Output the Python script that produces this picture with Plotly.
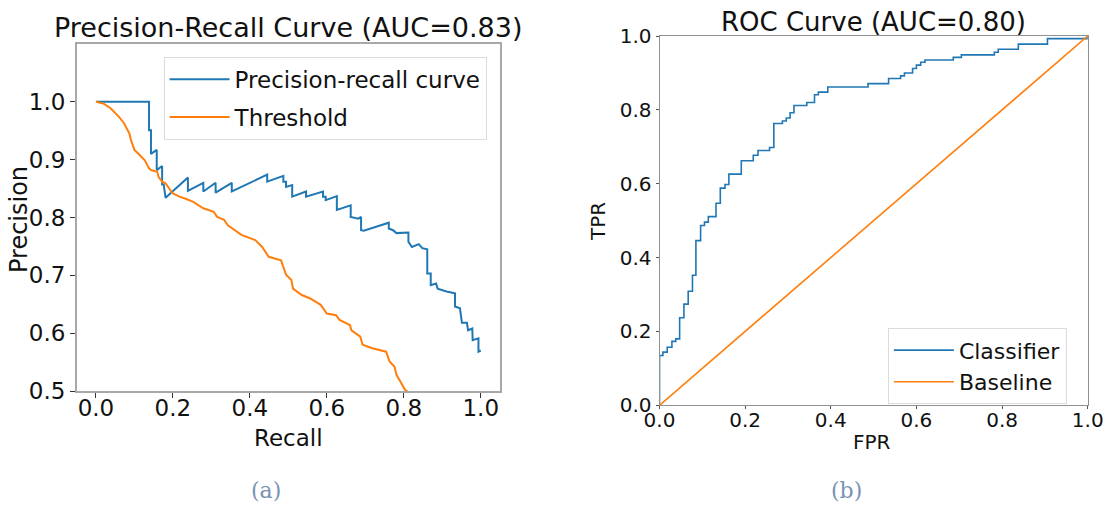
import plotly.graph_objects as go

# ---------------- data ----------------
pr_recall = [0.000, 0.138, 0.138, 0.143, 0.143, 0.158, 0.158, 0.172, 0.172, 0.176, 0.181, 0.239, 0.239,
             0.279, 0.279, 0.311, 0.311, 0.353, 0.353, 0.445, 0.445, 0.487, 0.487, 0.494, 0.494, 0.510,
             0.510, 0.546, 0.546, 0.590, 0.590, 0.597, 0.597, 0.626, 0.626, 0.662, 0.662, 0.682, 0.689,
             0.689, 0.696, 0.761, 0.761, 0.772, 0.781, 0.812, 0.812, 0.821, 0.839, 0.848, 0.861, 0.861,
             0.870, 0.870, 0.884, 0.888, 0.911, 0.933, 0.933, 0.946, 0.951, 0.964, 0.967, 0.978, 0.979,
             0.994, 0.994, 1.000]
pr_precision = [1.000, 1.000, 0.951, 0.951, 0.910, 0.917, 0.882, 0.889, 0.857, 0.857, 0.834, 0.869, 0.846,
                0.860, 0.845, 0.860, 0.843, 0.860, 0.845, 0.874, 0.862, 0.872, 0.862, 0.862, 0.853, 0.856,
                0.836, 0.845, 0.836, 0.845, 0.836, 0.836, 0.830, 0.837, 0.813, 0.821, 0.801, 0.798, 0.801,
                0.778, 0.777, 0.791, 0.781, 0.778, 0.773, 0.774, 0.758, 0.749, 0.754, 0.747, 0.745, 0.703,
                0.703, 0.683, 0.686, 0.677, 0.672, 0.669, 0.646, 0.643, 0.618, 0.618, 0.605, 0.608, 0.588,
                0.591, 0.568, 0.570]

th_recall = [0.000, 0.020, 0.038, 0.060, 0.073, 0.087, 0.091, 0.100, 0.109, 0.127, 0.138, 0.143, 0.159,
             0.163, 0.172, 0.181, 0.199, 0.217, 0.235, 0.253, 0.279, 0.306, 0.315, 0.333, 0.342, 0.360,
             0.378, 0.414, 0.432, 0.449, 0.467, 0.481, 0.494, 0.508, 0.512, 0.535, 0.557, 0.584, 0.600,
             0.624, 0.633, 0.660, 0.664, 0.687, 0.693, 0.718, 0.754, 0.763, 0.776, 0.781, 0.794, 0.803,
             0.817]
th_value = [1.000, 0.997, 0.989, 0.974, 0.963, 0.945, 0.934, 0.917, 0.911, 0.899, 0.885, 0.882, 0.879,
            0.870, 0.862, 0.859, 0.842, 0.836, 0.832, 0.827, 0.816, 0.810, 0.801, 0.796, 0.787, 0.778,
            0.770, 0.761, 0.749, 0.732, 0.729, 0.726, 0.701, 0.692, 0.677, 0.666, 0.660, 0.649, 0.634,
            0.631, 0.623, 0.614, 0.605, 0.594, 0.580, 0.574, 0.568, 0.551, 0.542, 0.528, 0.513, 0.502,
            0.496]

roc_fpr = [0.000, 0.000, 0.008, 0.018, 0.029, 0.038, 0.047, 0.057, 0.067, 0.077, 0.085, 0.096, 0.105,
           0.114, 0.132, 0.142, 0.153, 0.162, 0.191, 0.219, 0.230, 0.257, 0.267, 0.287, 0.296, 0.305,
           0.314, 0.344, 0.362, 0.371, 0.393, 0.487, 0.535, 0.563, 0.572, 0.591, 0.600, 0.610, 0.620,
           0.686, 0.705, 0.782, 0.791, 0.838, 0.906, 1.000]
roc_tpr = [0.000, 0.135, 0.144, 0.157, 0.173, 0.180, 0.237, 0.274, 0.309, 0.352, 0.446, 0.487, 0.496,
           0.511, 0.547, 0.588, 0.598, 0.626, 0.662, 0.677, 0.690, 0.698, 0.763, 0.770, 0.778, 0.792,
           0.812, 0.820, 0.841, 0.848, 0.862, 0.871, 0.885, 0.892, 0.900, 0.912, 0.921, 0.929, 0.935,
           0.942, 0.949, 0.956, 0.964, 0.978, 0.993, 1.000]

base_x = [0.0, 1.0]
base_y = [0.0, 1.0]

pr_ticks = [0.0, 0.2, 0.4, 0.6, 0.8, 1.0]
prec_ticks = [0.5, 0.6, 0.7, 0.8, 0.9, 1.0]
roc_ticks = [0.0, 0.2, 0.4, 0.6, 0.8, 1.0]

# ---------------- figure ----------------
W, H = 1108, 507
BLUE = "#1f77b4"
ORANGE = "#ff7f0e"
FONT = "DejaVu Sans"


def px(x):
    return x / W


def py(y):
    return 1 - y / H


fig = go.Figure()

fig.add_trace(go.Scatter(x=pr_recall, y=pr_precision, mode="lines", name="Precision-recall curve",
                         line=dict(color=BLUE, width=2), xaxis="x", yaxis="y",
                         legend="legend", legendgroup="a"))
fig.add_trace(go.Scatter(x=th_recall, y=th_value, mode="lines", name="Threshold",
                         line=dict(color=ORANGE, width=2), xaxis="x", yaxis="y",
                         legend="legend", legendgroup="b"))
fig.add_trace(go.Scatter(x=roc_fpr, y=roc_tpr, mode="lines", name="Classifier",
                         line=dict(color=BLUE, width=1.6, shape="hv"), xaxis="x2", yaxis="y2",
                         legend="legend2", legendgroup="c"))
fig.add_trace(go.Scatter(x=base_x, y=base_y, mode="lines", name="Baseline",
                         line=dict(color=ORANGE, width=1.6), xaxis="x2", yaxis="y2",
                         legend="legend2", legendgroup="d"))

left_axis = dict(showline=True, mirror=True, linecolor="#a8a8a8", linewidth=1.5, showgrid=False,
                 zeroline=False, ticks="outside", ticklen=5, tickcolor="#333", tickwidth=1,
                 automargin=False,
                 tickfont=dict(family=FONT, size=23, color="#111"))
right_axis = dict(showline=True, mirror=True, linecolor="#909090", linewidth=1, showgrid=False,
                  zeroline=False, ticks="outside", ticklen=3, tickcolor="#555", tickwidth=1,
                  automargin=False,
                  tickfont=dict(family=FONT, size=20, color="#111"))

fig.update_layout(
    width=W, height=H,
    margin=dict(l=0, r=0, t=0, b=0, autoexpand=False),
    paper_bgcolor="white", plot_bgcolor="white",
    showlegend=True,
    xaxis=dict(left_axis, domain=[px(76.7), px(500)], range=[-0.05, 1.05], anchor="y",
               ticklabelstandoff=-9,
               tickvals=pr_ticks, ticktext=[f"{v:.1f}" for v in pr_ticks]),
    yaxis=dict(left_axis, domain=[py(391), py(44)], range=[0.5, 1.1], anchor="x",
               tickvals=prec_ticks, ticktext=[f"{v:.1f}" for v in prec_ticks]),
    xaxis2=dict(right_axis, domain=[px(659.5), px(1087.7)], range=[0, 1], anchor="y2",
                ticklabelstandoff=-6,
                tickvals=roc_ticks, ticktext=[f"{v:.1f}" for v in roc_ticks]),
    yaxis2=dict(right_axis, domain=[py(405.3), py(36)], range=[0, 1], anchor="x2",
                tickvals=roc_ticks, ticktext=[f"{v:.1f}" for v in roc_ticks]),
    legend=dict(x=px(163.6), y=py(56.7), xanchor="left", yanchor="top",
                bgcolor="white", bordercolor="#dcdcdc", borderwidth=1,
                font=dict(family=FONT, size=23, color="#111"),
                traceorder="grouped", tracegroupgap=5, itemwidth=60,
                ),
    legend2=dict(x=px(887.9), y=py(328.3), xanchor="left", yanchor="top",
                 bgcolor="white", bordercolor="#dcdcdc", borderwidth=1,
                 font=dict(family=FONT, size=22, color="#111"),
                 traceorder="grouped", tracegroupgap=0, itemwidth=60,
                 ),
)

ann = []
# titles
ann.append(dict(text="Precision-Recall Curve (AUC=0.83)", x=px(288), y=py(27), xref="paper", yref="paper",
                showarrow=False, xanchor="center", yanchor="middle",
                font=dict(family=FONT, size=27, color="#111")))
ann.append(dict(text="ROC Curve (AUC=0.80)", x=px(873), y=py(22), xref="paper", yref="paper",
                showarrow=False, xanchor="center", yanchor="middle",
                font=dict(family=FONT, size=26, color="#111")))
# axis titles
ann.append(dict(text="Recall", x=px(288), y=py(438), xref="paper", yref="paper", showarrow=False,
                xanchor="center", yanchor="middle", font=dict(family=FONT, size=23, color="#111")))
ann.append(dict(text="Precision", x=px(19), y=py(220), xref="paper", yref="paper", showarrow=False,
                textangle=-90, xanchor="center", yanchor="middle",
                font=dict(family=FONT, size=24, color="#111")))
ann.append(dict(text="FPR", x=px(872), y=py(442), xref="paper", yref="paper", showarrow=False,
                xanchor="center", yanchor="middle", font=dict(family=FONT, size=20, color="#111")))
ann.append(dict(text="TPR", x=px(598.7), y=py(221.3), xref="paper", yref="paper", showarrow=False,
                textangle=-90, xanchor="center", yanchor="middle",
                font=dict(family=FONT, size=20, color="#111")))
# captions
ann.append(dict(text="(a)", x=px(266), y=py(490), xref="paper", yref="paper", showarrow=False,
                xanchor="center", yanchor="middle",
                font=dict(family="DejaVu Serif", size=22, color="#7a93b3")))
ann.append(dict(text="(b)", x=px(846.5), y=py(490), xref="paper", yref="paper", showarrow=False,
                xanchor="center", yanchor="middle",
                font=dict(family="DejaVu Serif", size=22, color="#7a93b3")))
fig.update_layout(annotations=ann)

fig.write_html("out.html")
